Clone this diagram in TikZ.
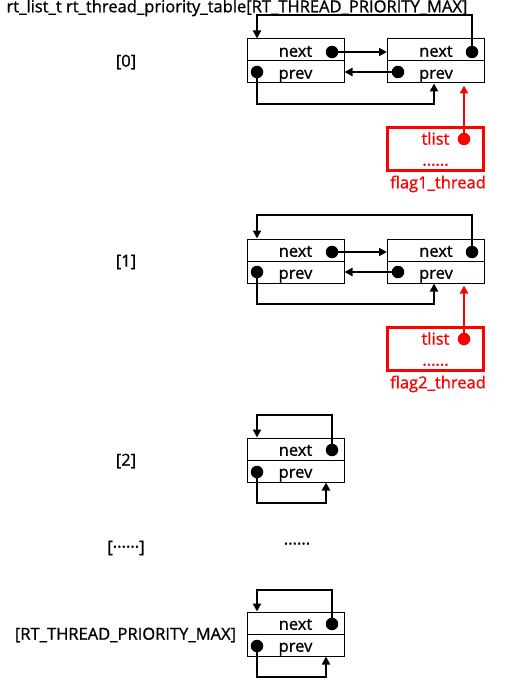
\documentclass[tikz,border=0pt]{standalone}
\usepackage{fontspec}
\setmainfont{Open Sans}
\newfontfamily\diagfont{Open Sans}[FakeBold=1]
\definecolor{thred}{RGB}{255,0,0}
\usetikzlibrary{arrows.meta,positioning}

\begin{document}
\begin{tikzpicture}[x=1pt,y=-1pt,
  cell/.style={draw, line width=1pt, minimum width=97pt, minimum height=22pt, inner sep=0pt, text height=13.5pt, text depth=0pt, font=\diagfont\fontsize{16.5}{18}\selectfont},
  dot/.style={circle, fill, inner sep=0pt, minimum size=12.5pt},
  link/.style={-{Stealth[length=8pt,width=8pt,inset=0pt]}, line width=2.2pt},
  slot/.style={font=\diagfont\fontsize{16.5}{18}\selectfont},
  task/.style={draw=thred, line width=2.4pt, minimum width=96pt, minimum height=43pt, inner sep=0pt, align=center, text=thred, font=\diagfont\fontsize{16.5}{21}\selectfont}]
  \useasboundingbox (0,0) rectangle (524,687);

  %--- Table name ---
  \node[slot] (title) at (237,8) {rt\_list\_t rt\_thread\_priority\_table[RT\_THREAD\_PRIORITY\_MAX]};

  %--- Priority 0 ---
  \node[slot] (idx0) at (126,62) {[0]};
  \node[cell] (next0a) at (295.5,50) {next};
  \node[cell] (prev0a) at (295.5,72) {prev};
  \node[cell] (next0b) at (436,50) {next};
  \node[cell] (prev0b) at (436,72) {prev};
  \node[dot] (d0an) at (332,52) {};
  \node[dot] (d0ap) at (257,72) {};
  \node[dot] (d0bn) at (472,52) {};
  \node[dot] (d0bp) at (398,72) {};
  \coordinate (up0) at (257,15);
  \coordinate (down0) at (434,104);

  \draw[link] (d0an) -- (d0an -| next0b.west);
  \draw[link] (d0bp) -- (d0bp -| prev0a.east);
  \draw[link] (d0bn) |- (up0) -- (up0 |- next0a.north);
  \draw[link] (d0ap) |- (down0) -- (down0 |- prev0b.south);

  % Thread 1 hangs on list 0
  \node[task] (task0) at (435.5,149) {tlist\\......};
  \node[dot, fill=thred] (dt0) at (464,139) {};
  \draw[link, thred, shorten >=2pt] (dt0) -- (dt0 |- prev0b.south);
  \node[slot, text=thred] (flag0) at (438,184) {flag1\_thread};

  %--- Priority 1 ---
  \node[slot] (idx1) at (126,262) {[1]};
  \node[cell] (next1a) at (295.5,250) {next};
  \node[cell] (prev1a) at (295.5,272) {prev};
  \node[cell] (next1b) at (436,250) {next};
  \node[cell] (prev1b) at (436,272) {prev};
  \node[dot] (d1an) at (332,252) {};
  \node[dot] (d1ap) at (257,272) {};
  \node[dot] (d1bn) at (472,252) {};
  \node[dot] (d1bp) at (398,272) {};
  \coordinate (up1) at (257,215);
  \coordinate (down1) at (434,304);

  \draw[link] (d1an) -- (d1an -| next1b.west);
  \draw[link] (d1bp) -- (d1bp -| prev1a.east);
  \draw[link] (d1bn) |- (up1) -- (up1 |- next1a.north);
  \draw[link] (d1ap) |- (down1) -- (down1 |- prev1b.south);

  % Thread 2 hangs on list 1
  \node[task] (task1) at (435.5,349) {tlist\\......};
  \node[dot, fill=thred] (dt1) at (464,339) {};
  \draw[link, thred, shorten >=2pt] (dt1) -- (dt1 |- prev1b.south);
  \node[slot, text=thred] (flag1) at (438,384) {flag2\_thread};

  %--- Priority 2 (empty) ---
  \node[slot] (idx2) at (126,461) {[2]};
  \node[cell] (next2) at (295.5,449) {next};
  \node[cell] (prev2) at (295.5,471) {prev};
  \node[dot] (d2n) at (332,450) {};
  \node[dot] (d2p) at (257,472) {};
  \coordinate (up2) at (257,415);
  \coordinate (down2) at (326,503);

  \draw[link] (d2n) |- (up2) -- (up2 |- next2.north);
  \draw[link] (d2p) |- (down2) -- (down2 |- prev2.south);

  %--- Gap ---
  \node[slot] (idxgap) at (126,548) {[······]};
  \node[slot] (gap) at (297,546) {······};

  %--- Last priority (empty) ---
  \node[slot] (idxmax) at (125.5,635) {[RT\_THREAD\_PRIORITY\_MAX]};
  \node[cell] (nextm) at (295.5,623) {next};
  \node[cell] (prevm) at (295.5,645) {prev};
  \node[dot] (dmn) at (332,624) {};
  \node[dot] (dmp) at (257,646) {};
  \coordinate (upm) at (257,590);
  \coordinate (downm) at (326,677);

  \draw[link] (dmn) |- (upm) -- (upm |- nextm.north);
  \draw[link] (dmp) |- (downm) -- (downm |- prevm.south);
\end{tikzpicture}
\end{document}
